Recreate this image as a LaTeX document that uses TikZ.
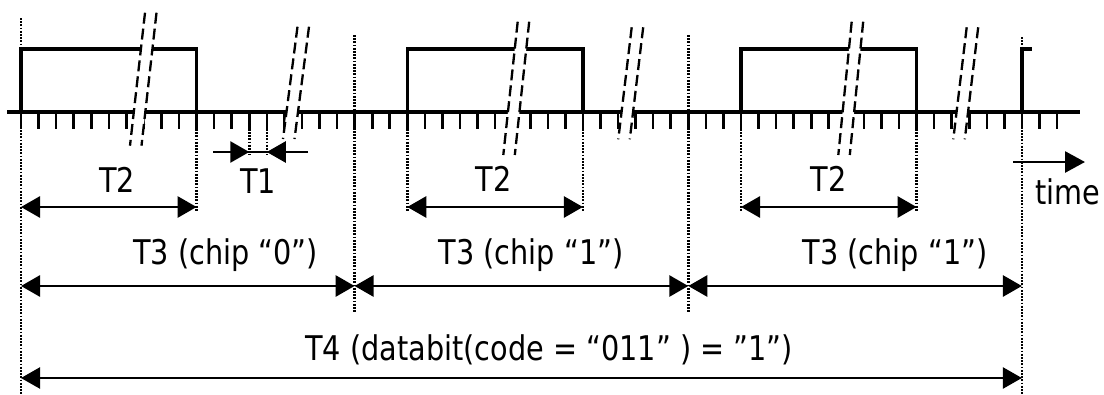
\documentclass[tikz,border=0pt]{standalone}
\usepackage{fontspec}
\setmainfont{DejaVu Sans}[FakeStretch=0.845]
\usetikzlibrary{arrows.meta}
\newcommand\brkmark[4]{%
  \fill[white] (#1,#2) -- (#3,#4) -- (#3+11.5,#4) -- (#1+11.5,#2) -- cycle;
  \draw[brk] (#1,#2) -- (#3,#4);
  \draw[brk] (#1+11.5,#2) -- (#3+11.5,#4);}
\begin{document}
\begin{tikzpicture}[x=1pt,y=-1pt,
  sig/.style={line width=3.6pt, line join=miter},
  axisline/.style={line width=3.2pt},
  tickmark/.style={line width=2.6pt},
  guide/.style={line width=2.5pt, dash pattern=on 1.8pt off 1.4pt},
  brk/.style={line width=2.3pt, dash pattern=on 11pt off 5pt},
  dim/.style={line width=2.8pt, {Triangle[length=19pt,width=21pt]}-{Triangle[length=19pt,width=21pt]}},
  lbl/.style={font=\fontsize{34}{40}\selectfont, anchor=base, inner sep=0pt}
]
\useasboundingbox (0,0) rectangle (1104,394);
\def\u{17.56}
% axis and ticks
\draw[axisline] (7,112) -- (1080,112);
\foreach \k in {0,...,59} \draw[tickmark] ({21+\k*\u},112) -- ++(0,17);
% signal
\draw[sig] (21,112) -- (21,49) -- (196.6,49) -- (196.6,112) -- (407.3,112)
  -- (407.3,49) -- (582.9,49) -- (582.9,112) -- (741,112) -- (741,49)
  -- (916.6,49) -- (916.6,112) -- (1021.9,112) -- (1021.9,49) -- (1032,49);
% breaks
\brkmark{145}{12.7}{130}{145.7}
\brkmark{297.5}{26.7}{283}{139}
\brkmark{517.7}{21.7}{503.3}{155}
\brkmark{631.7}{27.3}{618.3}{139.3}
\brkmark{851.7}{21.7}{838.3}{155}
\brkmark{966.7}{27.3}{953.3}{139.3}
% guide lines
\draw[guide] (21,18) -- (21,394);
\draw[guide] (1021.9,37) -- (1021.9,394);
\draw[guide] (354.6,35) -- (354.6,313);
\draw[guide] (688.3,35) -- (688.3,313);
\foreach \x in {196.6,407.3,582.9,741,916.6} \draw[guide] (\x,113) -- (\x,212);
\draw[guide] (249.3,116) -- (249.3,155);
\draw[guide] (266.8,116) -- (266.8,155);
% coordinates
\coordinate (a0) at (21,207);
\coordinate (a1) at (196.6,207);
\coordinate (a2) at (407.3,207);
\coordinate (a3) at (582.9,207);
\coordinate (a4) at (741,207);
\coordinate (a5) at (916.6,207);
\coordinate (t1l) at (213,152);
\coordinate (t1a) at (249.3,152);
\coordinate (t1b) at (266.8,152);
\coordinate (t1r) at (308,152);
\coordinate (c0) at (21,286);
\coordinate (c1) at (354.6,286);
\coordinate (c2) at (688.3,286);
\coordinate (c3) at (1021.9,286);
\coordinate (d0) at (21,378);
\coordinate (d1) at (1021.9,378);
\coordinate (ts) at (1013,162);
\coordinate (te) at (1085,162);
% dimension arrows
\draw[dim] (a0) -- (a1);
\draw[dim] (a2) -- (a3);
\draw[dim] (a4) -- (a5);
\draw[line width=2.6pt] (t1l) -- (t1r);
\draw[line width=2.6pt, -{Triangle[length=19pt,width=21pt]}] (t1l) -- (t1a);
\draw[line width=2.6pt, -{Triangle[length=19pt,width=21pt]}] (t1r) -- (t1b);
\draw[dim] (c0) -- (c1);
\draw[dim] (c1) -- (c2);
\draw[dim] (c2) -- (c3);
\draw[dim, line width=2.4pt] (d0) -- (d1);
\draw[line width=2.8pt, -{Triangle[length=20pt,width=21pt]}] (ts) -- (te);
% labels
\node[lbl] (t2a) at (117,192) {T2};
\node[lbl] (t1) at (258,193) {T1};
\node[lbl] (t2b) at (493.5,191.7) {T2};
\node[lbl] (t2c) at (828.7,191.7) {T2};
\node[lbl, anchor=base west] (time) at (1035,204) {time};
\node[lbl] (t3a) at (225.5,264) {T3 (chip “0”)};
\node[lbl] (t3b) at (531,264) {T3 (chip “1”)};
\node[lbl] (t3c) at (895,264) {T3 (chip “1”)};
\node[lbl] (t4) at (549,360) {T4 (databit(code = “011” ) = ”1”)};
\end{tikzpicture}
\end{document}
